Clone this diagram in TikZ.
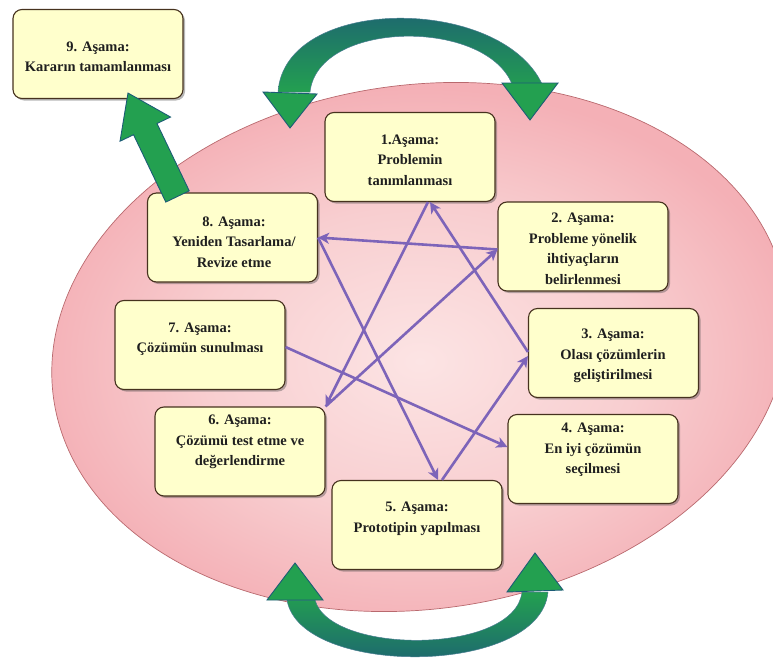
\documentclass[tikz,border=0pt]{standalone}
\usepackage{fontspec}
\setmainfont{Liberation Serif}[BoldFont={Liberation Serif Bold}]
\usetikzlibrary{arrows.meta,shadows,calc}
\definecolor{boxfill}{RGB}{255,255,204}
\definecolor{boxline}{RGB}{70,50,30}
\definecolor{pinkin}{RGB}{252,228,228}
\definecolor{pinkmid}{RGB}{248,206,208}
\definecolor{pinkout}{RGB}{244,176,182}
\definecolor{pinkline}{RGB}{185,105,110}
\definecolor{purp}{RGB}{125,100,185}
\definecolor{grn}{RGB}{35,160,80}
\definecolor{grnd}{RGB}{28,92,118}
\pgfdeclareradialshading{pinkshade}{\pgfpoint{0bp}{0bp}}{color(0bp)=(pinkin); color(14bp)=(pinkmid); color(25bp)=(pinkout); color(50bp)=(pinkout)}
\begin{document}
\begin{tikzpicture}[x=1pt,y=-1pt,
  stage/.style={draw=boxline, line width=1.1pt, fill=boxfill, rounded corners=9pt,
    minimum width=170pt, minimum height=89pt, inner sep=0pt,
    drop shadow={shadow xshift=2pt, shadow yshift=-2pt, opacity=0.4, fill=black!70}},
  stxt/.style={font=\fontsize{14.5}{20.5}\selectfont\bfseries, align=center, text=black!88, inner sep=0pt},
  link/.style={draw=purp, line width=2.6pt, -{Stealth[length=11pt,width=11pt,inset=3pt]}},
  ghead/.style={fill=grn, draw=grnd, line width=0.9pt, line join=miter},
  gshaft/.style={top color=grnd, bottom color=grn, draw=grnd!80, line width=0.5pt},
]
\useasboundingbox (0,0) rectangle (773,661);

% big ellipse
\shadedraw[shading=pinkshade, draw=pinkline, line width=0.7pt, rotate around={8:(420,347)}]
  (420,347) ellipse (370 and 262);

% top cycle arrow
\shadedraw[gshaft] (278,92) .. controls (285,-5) and (500,-5) .. (542,84)
  -- (512,84) .. controls (485,18) and (318,20) .. (310,92) -- cycle;
\filldraw[ghead] (263,92) -- (317,94) -- (290,128) -- cycle;
\filldraw[ghead] (502,83) -- (558,83) -- (530,120) -- cycle;

% bottom cycle arrow
\shadedraw[gshaft, top color=grn, bottom color=grnd] (287,600) .. controls (300,677) and (540,677) .. (548,592)
  -- (522,592) .. controls (515,655) and (330,655) .. (315,600) -- cycle;
\filldraw[ghead] (267,600) -- (323,600) -- (295,563) -- cycle;
\filldraw[ghead] (507,592) -- (563,590) -- (535,553) -- cycle;

% stages
\node[stage] (b9) at (98,54) {};
\node[stage] (b1) at (410,157) {};
\node[stage] (b2) at (583,246.5) {};
\node[stage] (b8) at (232.5,237.5) {};
\node[stage] (b7) at (200,345) {};
\node[stage] (b3) at (613.5,353) {};
\node[stage] (b6) at (240,451.5) {};
\node[stage] (b4) at (593,459) {};
\node[stage] (b5) at (417,525) {};

\node[stxt] (t9) at (98,57) {9. Aşama:\\Kararın tamamlanması};
\node[stxt] (t1) at (410,160) {1.Aşama:\\Problemin\\tanımlanması};
\node[stxt] (t2) at (583,249) {2. Aşama:\\Probleme yönelik\\ihtiyaçların\\belirlenmesi};
\node[stxt] (t8) at (234,242) {8. Aşama:\\Yeniden Tasarlama/\\Revize etme};
\node[stxt] (t7) at (200,339) {7. Aşama:\\Çözümün sunulması};
\node[stxt] (t3) at (613,356) {3. Aşama:\\Olası çözümlerin\\geliştirilmesi};
\node[stxt] (t6) at (240,442) {6. Aşama:\\Çözümü test etme ve\\değerlendirme};
\node[stxt] (t4) at (593,450) {4. Aşama:\\En iyi çözümün\\seçilmesi};
\node[stxt] (t5) at (417,519) {5. Aşama:\\Prototipin yapılması};

% star connections
\draw[link] ([xshift=18pt]b1.south) -- (b6.north east);
\draw[link] (b6.north east) -- ([yshift=-3pt]b2.west);
\draw[link] ([yshift=-3pt]b2.west) -- (b8.east);
\draw[link] (b8.east) -- ([xshift=21pt]b5.north);
\draw[link] ([xshift=25pt]b5.north) -- ([yshift=-3pt]b3.west);
\draw[link] ([yshift=1pt]b3.west) -- ([xshift=20pt]b1.south);
\draw[link] ([yshift=-2pt]b7.east) -- ([yshift=12pt]b4.west);

% arrow 8 -> 9
\coordinate (gs) at ([xshift=-55pt,yshift=-4pt]b8.north);
\coordinate (gt) at ([xshift=30pt,yshift=6pt]b9.south);
\coordinate (gb) at ($(gt)!40pt!(gs)$);
\filldraw[ghead] ($(gs)!13pt!90:(gt)$) -- ($(gb)!13pt!90:(gt)$) -- ($(gb)!28pt!90:(gt)$)
  -- (gt) -- ($(gb)!28pt!-90:(gt)$) -- ($(gb)!13pt!-90:(gt)$) -- ($(gs)!13pt!-90:(gt)$) -- cycle;
\end{tikzpicture}
\end{document}
